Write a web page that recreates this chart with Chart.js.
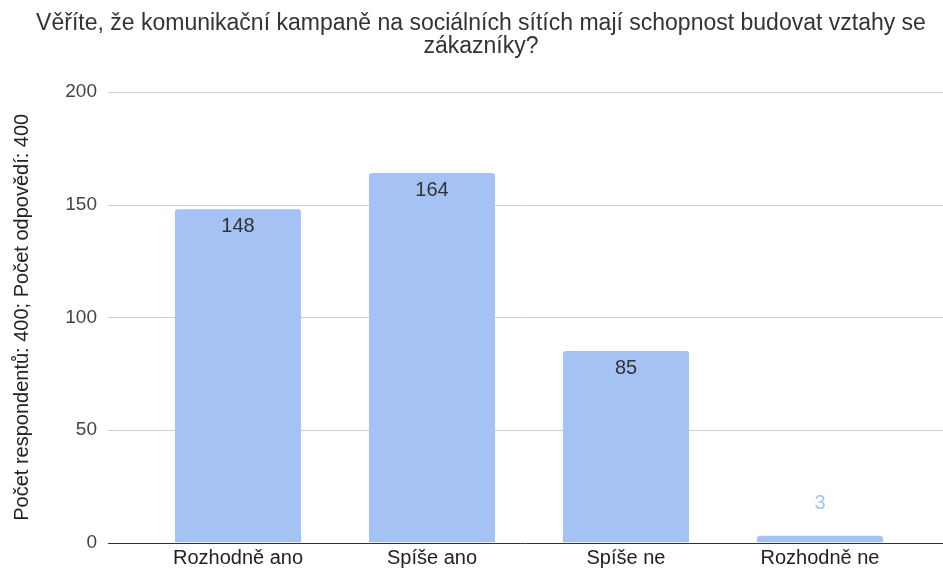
<!DOCTYPE html>
<html>
<head>
<meta charset="utf-8">
<script src="https://cdn.jsdelivr.net/npm/chart.js@4"></script>
<style>
    html, body { margin: 0; padding: 0; background: #fff; overflow: hidden; }
    #wrap { width: 943px; height: 598px; position: relative; }
</style>
</head>
<body>
<div id="wrap"><canvas id="myChart"></canvas></div>
<script>
// data
categories = ['Rozhodně ano', 'Spíše ano', 'Spíše ne', 'Rozhodně ne'];
counts = [148, 164, 85, 3];
yTicks = [0, 50, 100, 150, 200];
titleLines = ['Věříte, že komunikační kampaně na sociálních sítích mají schopnost budovat vztahy se', 'zákazníky?'];
yTitle = 'Počet respondentů: 400; Počet odpovědí: 400';

barColor = '#a4c2f4';
fontFam = '"Liberation Sans", Arial, sans-serif';

// title centred on the whole picture, not on the plot
var titlePlugin = {
    id: 'topTitle',
    afterDraw: function (chart) {
        var ctx = chart.ctx;
        ctx.save();
        ctx.font = '23px ' + fontFam;
        ctx.fillStyle = '#333333';
        ctx.textAlign = 'center';
        ctx.textBaseline = 'middle';
        titleLines.forEach(function (t, i) {
            ctx.fillText(t, 481, 24 + i * 23);
        });
        ctx.restore();
    }
};

// gridlines run wider than the bar area, like in the original
var gridPlugin = {
    id: 'wideGrid',
    beforeDatasetsDraw: function (chart) {
        var ctx = chart.ctx;
        var y = chart.scales.y;
        ctx.save();
        yTicks.forEach(function (t) {
            var py = Math.round(y.getPixelForValue(t)) + 0.5;
            ctx.beginPath();
            ctx.strokeStyle = t == 0 ? '#333333' : '#cccccc';
            ctx.lineWidth = 1;
            ctx.moveTo(108, py);
            ctx.lineTo(chart.width, py);
            ctx.stroke();
        });
        ctx.restore();
    }
};

// value labels: inside the bar top, or above it when the bar is too short
var labelPlugin = {
    id: 'valLabels',
    afterDatasetsDraw: function (chart) {
        var ctx = chart.ctx;
        var meta = chart.getDatasetMeta(0);
        ctx.save();
        ctx.font = '20px ' + fontFam;
        ctx.textAlign = 'center';
        ctx.textBaseline = 'middle';
        meta.data.forEach(function (bar, i) {
            var h = bar.base - bar.y;
            if (h > 30) {
                ctx.fillStyle = '#333333';
                ctx.fillText(String(counts[i]), bar.x, bar.y + 17);
            } else {
                ctx.fillStyle = barColor;
                ctx.fillText(String(counts[i]), bar.x, bar.y - 32);
            }
        });
        ctx.restore();
    }
};

var canvas = document.getElementById('myChart');
var myChart = new Chart(canvas, {
    type: 'bar',
    data: {
        labels: categories,
        datasets: [{
            data: counts,
            backgroundColor: barColor,
            borderRadius: 3,
            borderSkipped: 'bottom',
            barPercentage: 0.65,
            categoryPercentage: 1
        }]
    },
    options: {
        responsive: true,
        maintainAspectRatio: false,
        animation: false,
        layout: {
            padding: { top: 92, right: 26, bottom: 0, left: 0 }
        },
        plugins: {
            legend: { display: false },
            tooltip: { enabled: false },
            title: { display: false }
        },
        scales: {
            x: {
                grid: { display: false, drawTicks: false },
                border: { display: false },
                ticks: {
                    color: '#222222',
                    padding: 4,
                    maxRotation: 0,
                    font: { family: fontFam, size: 20 }
                }
            },
            y: {
                min: 0,
                max: 200,
                afterFit: function (scale) { scale.width = 141; },
                afterBuildTicks: function (scale) {
                    scale.ticks = yTicks.map(function (v) { return { value: v }; });
                },
                grid: { display: false, drawTicks: false },
                border: { display: false },
                ticks: {
                    color: '#444444',
                    padding: 44,
                    font: { family: fontFam, size: 19 }
                },
                title: {
                    display: true,
                    text: yTitle,
                    color: '#222222',
                    font: { family: fontFam, size: 20 },
                    padding: { top: 10, bottom: 0 }
                }
            }
        }
    },
    plugins: [titlePlugin, gridPlugin, labelPlugin]
});
</script>
</body>
</html>
